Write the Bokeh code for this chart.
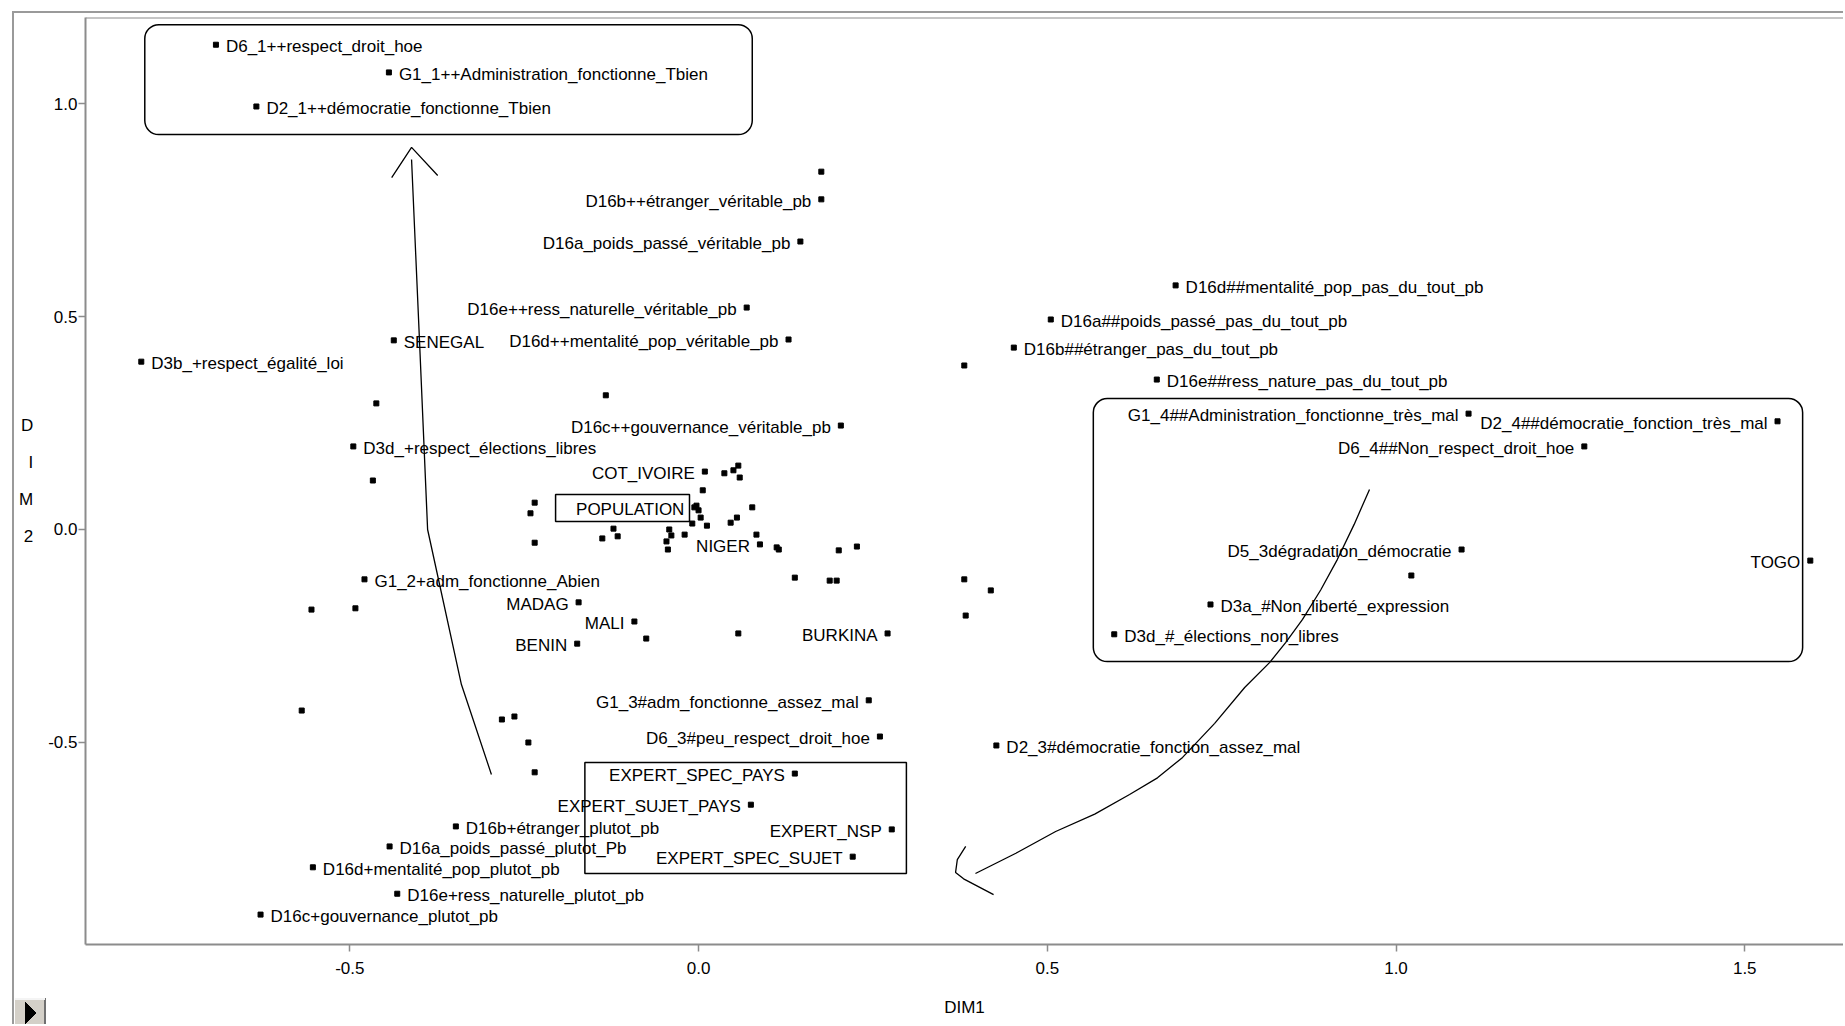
from bokeh.plotting import figure
from bokeh.models import (ColumnDataSource, FixedTicker, BoxAnnotation, Span,
                          NumeralTickFormatter, Range1d)
from bokeh.core.properties import value
from bokeh.embed import file_html
from bokeh.resources import INLINE

FONT = "Liberation Sans, Arial, sans-serif"
FS = "17px"

# ---- labelled modalities (DIM1, DIM2, side of the label) ----
label_names = [
    "D6_1++respect_droit_hoe", "G1_1++Administration_fonctionne_Tbien", "D2_1++démocratie_fonctionne_Tbien",
    "D16b++étranger_véritable_pb", "D16a_poids_passé_véritable_pb", "D16e++ress_naturelle_véritable_pb",
    "D16d++mentalité_pop_véritable_pb", "SENEGAL", "D3b_+respect_égalité_loi", "D16c++gouvernance_véritable_pb",
    "D3d_+respect_élections_libres", "COT_IVOIRE", "POPULATION", "NIGER", "G1_2+adm_fonctionne_Abien",
    "MADAG", "MALI", "BENIN", "BURKINA", "G1_3#adm_fonctionne_assez_mal", "D6_3#peu_respect_droit_hoe",
    "EXPERT_SPEC_PAYS", "EXPERT_SUJET_PAYS", "EXPERT_NSP", "EXPERT_SPEC_SUJET",
    "D16b+étranger_plutot_pb", "D16a_poids_passé_plutot_Pb", "D16d+mentalité_pop_plutot_pb",
    "D16e+ress_naturelle_plutot_pb", "D16c+gouvernance_plutot_pb",
    "D16d##mentalité_pop_pas_du_tout_pb", "D16a##poids_passé_pas_du_tout_pb", "D16b##étranger_pas_du_tout_pb",
    "D16e##ress_nature_pas_du_tout_pb", "G1_4##Administration_fonctionne_très_mal",
    "D2_4##démocratie_fonction_très_mal", "D6_4##Non_respect_droit_hoe", "D5_3dégradation_démocratie",
    "D3a_#Non_liberté_expression", "D3d_#_élections_non_libres", "TOGO", "D2_3#démocratie_fonction_assez_mal",
]
label_dim1 = [
    -0.692, -0.444, -0.634,
    0.176, 0.146, 0.069,
    0.129, -0.437, -0.799, 0.204,
    -0.495, 0.009, -0.006, 0.088, -0.479,
    -0.172, -0.092, -0.174, 0.271, 0.244, 0.260,
    0.138, 0.075, 0.277, 0.221,
    -0.348, -0.443, -0.553,
    -0.432, -0.628,
    0.684, 0.505, 0.452,
    0.657, 1.104,
    1.547, 1.270, 1.094,
    0.734, 0.596, 1.594, 0.427,
]
label_dim2 = [
    1.138, 1.073, 0.993,
    0.775, 0.676, 0.521,
    0.446, 0.444, 0.394, 0.244,
    0.195, 0.136, 0.052, -0.035, -0.117,
    -0.171, -0.216, -0.268, -0.244, -0.401, -0.486,
    -0.573, -0.646, -0.704, -0.768,
    -0.697, -0.744, -0.793,
    -0.855, -0.904,
    0.573, 0.493, 0.427,
    0.352, 0.272,
    0.254, 0.195, -0.047,
    -0.176, -0.246, -0.073, -0.507,
]
label_side = [
    "R", "R", "R",
    "L", "L", "L",
    "L", "R", "R", "L",
    "R", "L", "L", "L", "R",
    "L", "L", "L", "L", "L", "L",
    "L", "L", "L", "L",
    "R", "R", "R",
    "R", "R",
    "R", "R", "R",
    "R", "L",
    "L", "L", "L",
    "R", "R", "L", "R",
]

# ---- unlabelled points ----
other_dim1 = [0.176, -0.133, -0.462, -0.467, -0.555, -0.492, -0.569, 0.381, 0.381, 0.419, 0.383, 1.022,
              0.037, 0.050, 0.057, 0.059, 0.006, -0.003, 0.000, 0.003, -0.009, 0.012, 0.077, 0.046, 0.055,
              -0.235, -0.241, -0.235, -0.122, -0.116, -0.138, -0.042, -0.039, -0.046, -0.044, -0.020,
              0.083, 0.115, 0.112, 0.201, 0.227, 0.138, 0.188, 0.198, -0.075, 0.057,
              -0.282, -0.264, -0.244, -0.235]
other_dim2 = [0.840, 0.315, 0.296, 0.115, -0.188, -0.185, -0.425, 0.385, -0.117, -0.143, -0.202, -0.108,
              0.132, 0.139, 0.150, 0.122, 0.092, 0.056, 0.045, 0.028, 0.014, 0.009, 0.052, 0.016, 0.028,
              0.063, 0.038, -0.031, 0.002, -0.016, -0.021, 0.000, -0.014, -0.028, -0.047, -0.012,
              -0.012, -0.047, -0.042, -0.049, -0.040, -0.113, -0.120, -0.120, -0.256, -0.244,
              -0.446, -0.439, -0.500, -0.570]

x_ticks = [-0.5, 0.0, 0.5, 1.0, 1.5]
y_ticks = [-0.5, 0.0, 0.5, 1.0]

# ---- annotation geometry (data units) ----
box_top = dict(left=-0.794, right=0.077, top=1.185, bottom=0.927)
box_right = dict(left=0.566, right=1.583, top=0.3075, bottom=-0.310)
box_pop = dict(left=-0.205, right=-0.013, top=0.082, bottom=0.019)
box_expert = dict(left=-0.163, right=0.298, top=-0.547, bottom=-0.8075)

arrow1_x = [-0.297, -0.340, -0.3885, -0.400, -0.4115]
arrow1_y = [-0.575, -0.364, 0.000, 0.439, 0.8685]
head1_x = [-0.440, -0.4115, -0.374]
head1_y = [0.826, 0.897, 0.831]
arrow2_x = [0.962, 0.940, 0.916, 0.892, 0.866, 0.842, 0.819, 0.783, 0.740, 0.694, 0.658, 0.618, 0.568, 0.512, 0.455, 0.397]
arrow2_y = [0.094, 0.012, -0.070, -0.142, -0.211, -0.265, -0.312, -0.371, -0.455, -0.535, -0.583, -0.622, -0.668, -0.709, -0.760, -0.8075]
head2_x = [0.383, 0.371, 0.3685, 0.380, 0.423]
head2_y = [-0.744, -0.775, -0.805, -0.820, -0.857]

X0, X1 = -0.879, 1.6416
Y0, Y1 = -0.9742, 1.2019

# window chrome: grey panel edges and the small play button (CSS background layers)
G = "#9a9a9a"
panel_css = {
    "background-color": "white",
    "background-image": ", ".join([
        "linear-gradient(to top right, black 50%, transparent 50%)",
        "linear-gradient(to bottom right, black 50%, transparent 50%)",
        "linear-gradient(#f4f4f4, #f4f4f4)",
        "linear-gradient(#707070, #707070)",
        "linear-gradient(#d4d0c8, #d4d0c8)",
        f"linear-gradient({G}, {G})",
        f"linear-gradient({G}, {G})",
    ]),
    "background-size": "12px 11px, 12px 11px, 30px 2px, 2px 28px, 30px 28px, 2px 100%, 100% 2px",
    "background-position": "25px 1002px, 25px 1013px, 15px 998px, 44px 998px, 15px 998px, 12px 11px, 12px 11px",
    "background-repeat": "no-repeat",
}

p = figure(frame_width=1758, frame_height=927, min_border_left=85, min_border_right=0,
           min_border_top=17, min_border_bottom=80,
           x_range=Range1d(X0, X1), y_range=Range1d(Y0, Y1),
           output_backend="svg", toolbar_location=None, styles=panel_css)
p.background_fill_color = "white"
p.border_fill_color = None
p.outline_line_color = None
p.grid.visible = False

for ax in (p.xaxis[0], p.yaxis[0]):
    ax.axis_line_color = "#8c8c8c"
    ax.axis_line_width = 2
    ax.major_tick_line_color = "#8c8c8c"
    ax.major_tick_line_width = 1.5
    ax.major_tick_out = 7
    ax.major_tick_in = 0
    ax.minor_tick_line_color = None
    ax.major_label_text_font = FONT
    ax.major_label_text_font_size = FS
    ax.major_label_text_color = "black"
    ax.formatter = NumeralTickFormatter(format="0.0")
    ax.axis_label_text_font = FONT
    ax.axis_label_text_font_size = FS
    ax.axis_label_text_font_style = "normal"
    ax.axis_label_text_color = "black"

p.xaxis.ticker = FixedTicker(ticks=x_ticks)
p.yaxis.ticker = FixedTicker(ticks=y_ticks)
p.xaxis.major_label_standoff = 10
p.yaxis.major_label_standoff = 1

p.xaxis.axis_label = "DIM1"
p.xaxis.axis_label_standoff = 21
p.yaxis.axis_label = "D\nI\nM\n2"
p.yaxis.axis_label_orientation = "horizontal"
p.yaxis.axis_label_text_line_height = 1.96
p.yaxis.axis_label_text_align = "center"
p.yaxis.axis_label_standoff = 12

# top frame line
p.add_layout(Span(location=Y1, dimension="width", line_color="#8c8c8c", line_width=2))

# boxes
for b, r in ((box_top, 14), (box_right, 14)):
    p.add_layout(BoxAnnotation(**b, fill_alpha=0, line_color="black", line_width=1.5, line_alpha=1,
                               border_radius=r))
for b in (box_pop, box_expert):
    p.add_layout(BoxAnnotation(**b, fill_alpha=0, line_color="black", line_width=1.5, line_alpha=1))

# arrows
p.line(arrow1_x, arrow1_y, line_color="black", line_width=1.3)
p.line(head1_x, head1_y, line_color="black", line_width=1.3)
p.line(arrow2_x, arrow2_y, line_color="black", line_width=1.3)
p.line(head2_x, head2_y, line_color="black", line_width=1.3)

# points
p.scatter(other_dim1, other_dim2, marker="square", size=5, color="black")
p.scatter(label_dim1, label_dim2, marker="square", size=5, color="black")

right = ColumnDataSource(dict(
    x=[a for a, s in zip(label_dim1, label_side) if s == "R"],
    y=[a for a, s in zip(label_dim2, label_side) if s == "R"],
    t=[a for a, s in zip(label_names, label_side) if s == "R"]))
left = ColumnDataSource(dict(
    x=[a for a, s in zip(label_dim1, label_side) if s == "L"],
    y=[a for a, s in zip(label_dim2, label_side) if s == "L"],
    t=[a for a, s in zip(label_names, label_side) if s == "L"]))

p.text("x", "y", text="t", source=right, x_offset=10, y_offset=2, text_align="left",
       text_baseline="middle", text_font=value(FONT), text_font_size=FS, text_color="black")
p.text("x", "y", text="t", source=left, x_offset=-10, y_offset=2, text_align="right",
       text_baseline="middle", text_font=value(FONT), text_font_size=FS, text_color="black")

open("out.html", "w").write(file_html(p, INLINE))
